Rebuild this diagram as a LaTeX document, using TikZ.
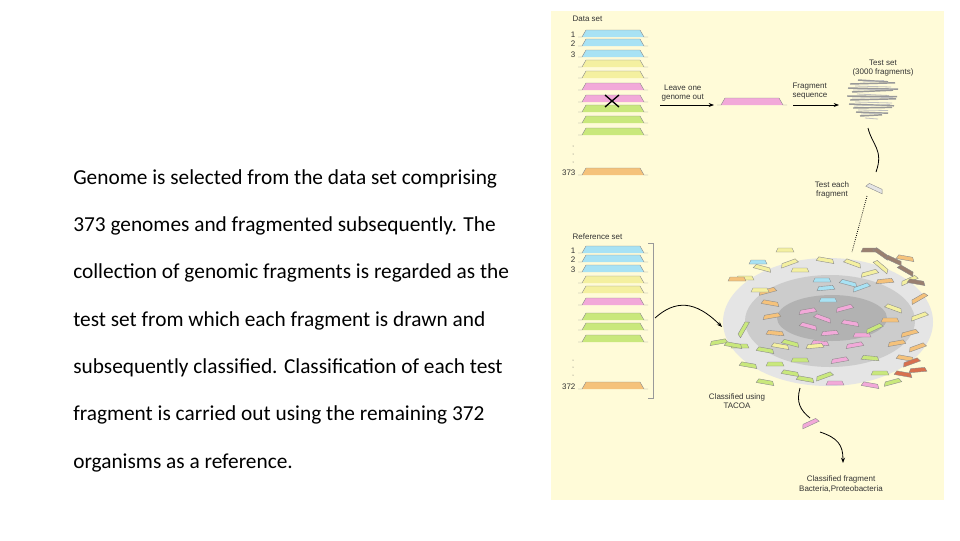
\documentclass[tikz,border=0pt]{standalone}
\usepackage{fontspec}
\setmainfont{Carlito}
\newfontfamily\figfont{Liberation Sans}
\usetikzlibrary{arrows.meta,decorations.pathmorphing}
\definecolor{cream}{HTML}{FFFBD8}
\definecolor{gcyan}{HTML}{A8E2F4}
\definecolor{gyel}{HTML}{F4F0A0}
\definecolor{gpink}{HTML}{F2A9D9}
\definecolor{ggreen}{HTML}{C9E87C}
\definecolor{gorange}{HTML}{F5C27B}
\definecolor{gbrown}{HTML}{9A8070}
\definecolor{gred}{HTML}{D8704E}
\tikzset{
  bar/.pic={\fill[#1] (-31,0)--(31,0)--(27,-7)--(-27,-7)--cycle;
            \draw[black!45,line width=0.3pt] (-35,0)--(-31,0)--(-27,-7)--(27,-7)--(31,0)--(35,0);},
  frag/.pic={\filldraw[fill=#1,draw=black!45,line width=0.3pt] (-9,0)--(9,0)--(7,-4)--(-7,-4)--cycle;},
  lab/.style={font=\figfont\fontsize{6}{7}\selectfont,text=black!80,align=center,inner sep=1pt},
  arr/.style={-{Stealth[length=4pt]},line width=0.6pt},
  body/.style={font=\fontsize{16}{18}\selectfont,anchor=base west,inner sep=0pt}
}
\begin{document}
\begin{tikzpicture}[x=0.75pt,y=-0.75pt]
\useasboundingbox (0,0) rectangle (960,540);
\fill[white] (0,0) rectangle (960,540);
% left text
\node[body] (t1) at (73,184) {Genome is selected from the data set comprising};
\node[body] (t2) at (73,231) {373 genomes and fragmented subsequently. The};
\node[body] (t3) at (73,278) {collection of genomic fragments is regarded as the};
\node[body] (t4) at (73,326) {test set from which each fragment is drawn and};
\node[body] (t5) at (73,373) {subsequently classified. Classification of each test};
\node[body] (t6) at (73,420) {fragment is carried out using the remaining 372};
\node[body] (t7) at (73,468) {organisms as a reference.};
% panel
\fill[cream] (551,11) rectangle (944,500);
% data set
\node[lab,anchor=west] (ds) at (571,19) {Data set};
\foreach \y/\c in {37/gcyan,46/gcyan,57/gcyan,67/gyel,78/gyel,90/gpink,102/gpink,112/ggreen,123/ggreen,135/ggreen,175/gorange}
  \pic at (613,\y) {bar=\c};
\node[lab,anchor=east] (n1) at (577,35) {1};
\node[lab,anchor=east] (n2) at (577,44) {2};
\node[lab,anchor=east] (n3) at (577,55) {3};
\node[lab,anchor=east] (n373) at (577,173) {373};
\foreach \y in {146,154,162} \fill[black!60] (573,\y) circle (0.5);
\draw[line width=1pt] (605,95)--(619,107) (605,107)--(619,95);
% leave one out
\coordinate (a1) at (660,105); \coordinate (a2) at (714,105);
\draw[arr] (a1)--(a2);
\node[lab,anchor=south west] (lv) at (660,103) {Leave one\\genome out};
\pic at (752,105) {bar=gpink};
\coordinate (b1) at (793,105); \coordinate (b2) at (839,105);
\draw[arr] (b1)--(b2);
\node[lab,anchor=south west,align=left] (fs) at (791,101) {Fragment\\sequence};
\node[lab] (ts) at (883,68) {Test set\\(3000 fragments)};
% test set cloud
\foreach \y/\xa/\xb/\s in {80/858/888/3,84/850/895/-2,88/848/898/2,92/852/893/-3,96/847/897/1,100/850/896/-2,104/849/894/3,108/853/892/-1,112/856/888/2,116/860/882/-2}{
  \draw[black!40,line width=1.1pt] (\xa,\y) -- (\xb,\y+\s*0.6);
  \draw[black!25,line width=0.6pt] (\xa+5,\y+2) -- (\xb-4,\y+2-\s*0.5);
}
% test each fragment
\coordinate (c1) at (868,128);
\coordinate (c2) at (876,172);
\draw[line width=0.6pt] (c1) .. controls (872,145) and (884,150) .. (c2);
\pic[rotate=-25] at (874,190) {frag=black!10};
\node[lab] (tef) at (832,190) {Test each\\fragment};
\coordinate (d1) at (867,196); \coordinate (d2) at (852,252);
\draw[densely dotted,line width=0.6pt] (d1)--(d2);
% reference set
\node[lab,anchor=west] (rs) at (571,237) {Reference set};
\foreach \y/\c in {253/gcyan,262/gcyan,272/gcyan,283/gyel,293/gyel,305/gpink,320/ggreen,330/ggreen,342/ggreen,389/gorange}
  \pic at (613,\y) {bar=\c};
\node[lab,anchor=east] (r1) at (577,251) {1};
\node[lab,anchor=east] (r2) at (577,260) {2};
\node[lab,anchor=east] (r3) at (577,270) {3};
\node[lab,anchor=east] (r372) at (577,387) {372};
\foreach \y in {360,367,375} \fill[black!60] (573,\y) circle (0.5);
\draw[black!40,line width=0.4pt] (648,243)--(653,243)--(653,398)--(648,398);
% ellipses
\fill[black!10] (828,322) ellipse (105 and 64);
\fill[black!20] (830,321) ellipse (85 and 46);
\fill[black!30] (832,318) ellipse (55 and 23);
% arrow ref->cloud
\coordinate (e1) at (655,318); \coordinate (e2) at (722,327);
\draw[arr] (e1) .. controls (675,300) and (695,300) .. (e2);
% fragments
\foreach \x/\y/\a/\c in {
808/313/10/gpink,822/320/-20/gpink,845/310/15/gpink,850/325/-10/gpink,830/335/5/gpink,808/328/-15/gpink,862/337/0/gpink,855/347/10/gpink,820/345/-5/gpink,875/330/25/ggreen,
822/282/0/gcyan,848/285/-15/gcyan,826/290/5/gcyan,862/289/20/gcyan,828/302/0/gcyan,
770/305/-10/gorange,772/318/10/gorange,775/335/-5/gorange,768/293/15/gorange,893/310/-20/gyel,890/322/0/gorange,780/348/-10/gyel,910/335/15/gorange,897/345/10/gorange,885/283/5/gorange,
745/280/0/gyel,762/270/-15/gyel,790/265/20/gyel,800/272/0/gyel,825/262/-10/gyel,852/265/-20/gyel,870/275/15/gyel,880/268/-40/gyel,905/260/-10/gorange,910/282/25/gyel,920/300/30/gorange,920/318/20/gyel,905/360/-10/gorange,918/349/20/gorange,760/292/0/gyel,
745/330/60/ggreen,740/348/0/ggreen,765/352/-10/ggreen,790/345/-15/ggreen,800/362/0/ggreen,815/348/5/gyel,840/362/10/gpink,870/360/-5/ggreen,880/375/0/ggreen,790/375/-10/ggreen,825/378/20/ggreen,
719/344/10/ggreen,733/347/-10/ggreen,748/367/-10/ggreen,775/366/0/ggreen,765/384/-10/ggreen,805/381/-10/ggreen,835/385/0/gpink,870/387/-10/gpink,893/384/15/ggreen,
785/252/0/gyel,758/264/0/gcyan,737/281/0/gorange,870/252/0/gbrown,
880/255/-35/gbrown,893/262/-25/gbrown,905/272/-30/gbrown,916/284/-10/gbrown,912/364/20/gred,918/372/5/gred,903/376/-10/gred}
  \pic[rotate=\a] at (\x,\y) {frag=\c};
% classified
\coordinate (f1) at (800,388); \coordinate (f2) at (810,418);
\draw[line width=0.6pt] (f1) .. controls (796,402) and (800,410) .. (f2);
\pic[rotate=25] at (811,425) {frag=gpink};
\coordinate (g1) at (820,432); \coordinate (g2) at (843,463);
\draw[arr] (g1) .. controls (838,438) and (843,445) .. (g2);
\node[lab] (ct) at (737,401) {Classified using\\TACOA};
\node[lab] (cf) at (841,484) {Classified fragment\\Bacteria,Proteobacteria};
\end{tikzpicture}
\end{document}
